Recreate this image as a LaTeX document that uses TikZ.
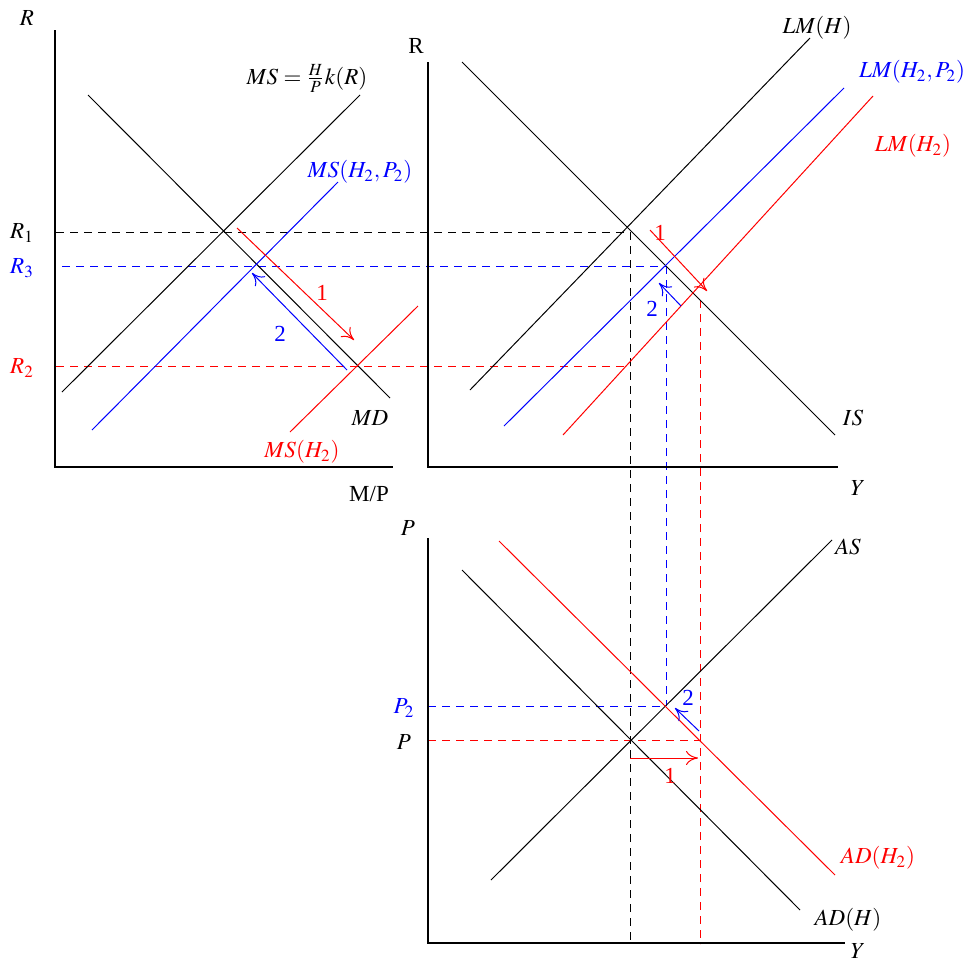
\documentclass[tikz,border=0pt]{standalone}
\usepackage{mathptmx}
\usepackage[no-math]{fontspec}
\setmainfont{Liberation Serif}
\usetikzlibrary{arrows.meta}

\begin{document}
\begin{tikzpicture}[
        x=0.5pt, y=-0.5pt,
        axis/.style={line width=0.6pt},
        curve/.style={line width=0.5pt},
        guide/.style={dash pattern=on 4pt off 3pt, line width=0.5pt},
        move/.style={-{To[length=6pt,width=7pt]}, line width=0.5pt},
        lbl/.style={inner sep=0pt, font=\fontsize{11.5pt}{14pt}\selectfont}
      ]
        \useasboundingbox (0,0) rectangle (964,959);
        % equilibrium points
        \coordinate (m1) at (222,232);
        \coordinate (m3) at (258,266);
        \coordinate (m2) at (358,366);
        \coordinate (g1) at (630,232);
        \coordinate (g3) at (666,266);
        \coordinate (g2) at (700,300);
        \coordinate (p1) at (630,740);
        \coordinate (p3) at (666,706);
        \coordinate (p2) at (700,740);

        % guide lines
        \begin{scope}[guide]
          \draw[draw=black] (56,232) -- (g1);
          \draw[draw=black] (g1) -- (630,944);
          \draw[draw=blue] (62,266) -- (g3);
          \draw[draw=blue] (g3) -- (p3);
          \draw[draw=red] (56,366) -- (630,366);
          \draw[draw=red] (g2) -- (700,944);
          \draw[draw=blue] (428,706) -- (p3);
          \draw[draw=red] (428,740) -- (p2);
        \end{scope}

        % money market
        \draw[axis] (55,30) -- (55,467) -- (393,467);
        \node[lbl] (rm) at (27,18) {$R$};
        \node[lbl] (mp) at (369,494) {M/P};
        \draw[curve] (88,95) -- (390,398);
        \draw[curve] (62,392) -- (360,95);
        \draw[curve, blue] (92,430) -- (338,182);
        \draw[curve, red] (290,432) -- (418,306);
        \node[lbl] (ms) at (307,78) {$MS=\frac{H}{P}k(R)$};
        \node[lbl, blue] (ms2) at (360,172) {$MS(H_2,P_2)$};
        \node[lbl] (md) at (370,418) {$MD$};
        \node[lbl, red] (ms1) at (302,452) {$MS(H_2)$};
        \node[lbl] (r1) at (22,233) {$R_1$};
        \node[lbl, blue] (r3) at (22,268) {$R_3$};
        \node[lbl, red] (r2) at (22,368) {$R_2$};
        \draw[move, red] (237,228) -- (354,340);
        \draw[move, blue] (347,370) -- (252,273);
        \node[lbl, red] (ma) at (322,293) {1};
        \node[lbl, blue] (mb) at (280,334) {2};

        % goods market
        \draw[axis] (428,62) -- (428,467) -- (838,467);
        \node[lbl] (rg) at (416,46) {R};
        \node[lbl] (yg) at (858,488) {$Y$};
        \draw[curve] (462,62) -- (835,435);
        \draw[curve] (470,390) -- (810,38);
        \draw[curve, blue] (504,426) -- (844,88);
        \draw[curve, red] (563,435) -- (873,96);
        \node[lbl] (is) at (853,418) {$IS$};
        \node[lbl] (lm) at (817,28) {$LM(H)$};
        \node[lbl, blue] (lm2) at (912,72) {$LM(H_2,P_2)$};
        \node[lbl, red] (lm1) at (913,146) {$LM(H_2)$};
        \draw[move, red] (650,230) -- (707,291);
        \draw[move, blue] (681,306) -- (659,283);
        \node[lbl, red] (ga) at (660,233) {1};
        \node[lbl, blue] (gb) at (652,309) {2};

        % price level
        \draw[axis] (428,538) -- (428,943) -- (845,943);
        \node[lbl] (pa) at (408,528) {$P$};
        \node[lbl] (yp) at (858,951) {$Y$};
        \draw[curve] (491,880) -- (832,540);
        \draw[curve] (462,570) -- (800,910);
        \draw[curve, red] (499,541) -- (835,875);
        \node[lbl] (as) at (848,547) {$AS$};
        \node[lbl] (ad) at (848,920) {$AD(H)$};
        \node[lbl, red] (ad1) at (878,858) {$AD(H_2)$};
        \node[lbl, blue] (pl2) at (404,708) {$P_2$};
        \node[lbl] (pl) at (404,742) {$P$};
        \draw[move, red] (630,758) -- (698,758);
        \draw[move, blue] (699,731) -- (675,708);
        \node[lbl, red] (pb) at (670,776) {1};
        \node[lbl, blue] (pc) at (688,698) {2};
      \end{tikzpicture}
\end{document}
